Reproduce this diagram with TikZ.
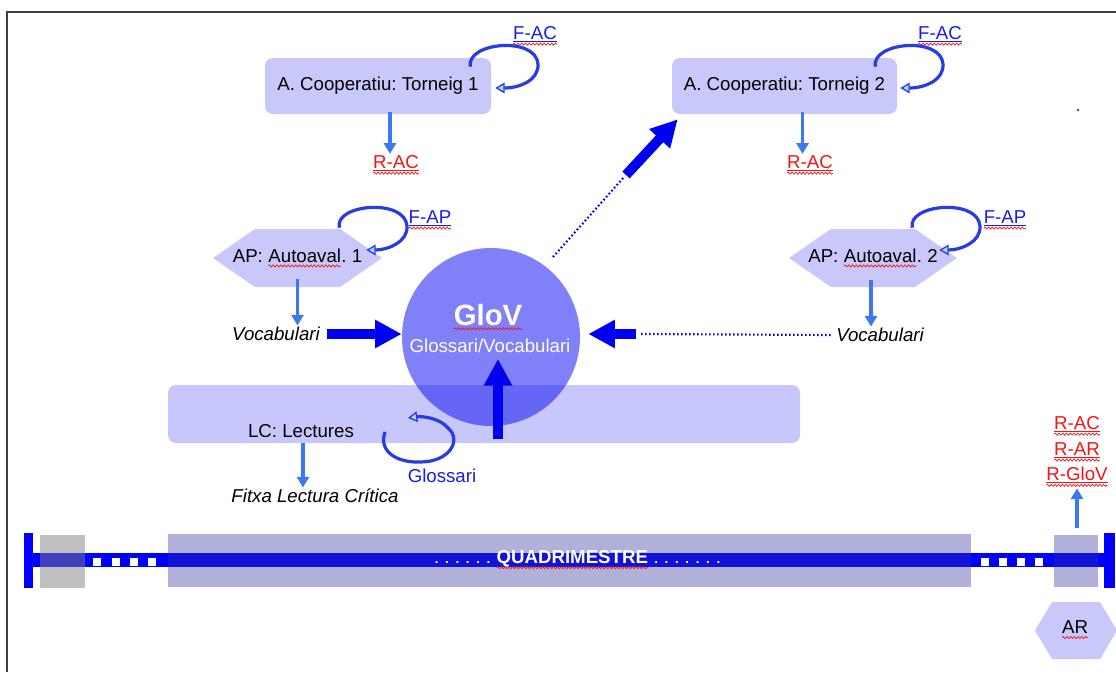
\documentclass[tikz,border=0pt]{standalone}
\usepackage{fontspec}
\setmainfont{Liberation Sans}
\usetikzlibrary{arrows.meta,decorations.pathmorphing,calc}
\definecolor{boxfill}{RGB}{200,200,250}
\definecolor{circfill}{RGB}{128,128,248}
\definecolor{thinblue}{RGB}{60,120,240}
\definecolor{loopblue}{RGB}{40,60,230}
\definecolor{loopfill}{RGB}{170,220,250}
\definecolor{linkblue}{RGB}{20,30,230}
\definecolor{wavered}{RGB}{235,30,30}
\definecolor{txtred}{RGB}{245,20,20}
\definecolor{barblue}{RGB}{0,0,255}
\definecolor{bigblue}{RGB}{0,0,240}
\definecolor{bigbox}{RGB}{51,51,155}
\definecolor{lcover}{RGB}{15,15,240}
\newcommand\wavyu[1]{\tikz[baseline=(w.base)]{\node[inner sep=0pt,outer sep=0pt,minimum width=0pt,minimum height=0pt](w){#1};\draw[wavered,line width=0.55pt,decorate,decoration={snake,amplitude=0.8pt,segment length=2.8pt}]([yshift=-2.8pt]w.base west)--([yshift=-2.8pt]w.base east);}}
\newcommand\linku[2]{\tikz[baseline=(w.base)]{\node[inner sep=0pt,outer sep=0pt,minimum width=0pt,minimum height=0pt,text=#1](w){#2};\draw[#1,line width=0.6pt]([yshift=-1.3pt]w.base west)--([yshift=-1.3pt]w.base east);\draw[wavered,line width=0.55pt,decorate,decoration={snake,amplitude=0.8pt,segment length=2.8pt}]([yshift=-3.5pt]w.base west)--([yshift=-3.5pt]w.base east);}}
\begin{document}
\frenchspacing
\begin{tikzpicture}[x=0.75pt,y=-0.75pt,
 lbl/.style={font=\fontsize{14}{16}\selectfont,inner sep=1pt},
 rbox/.style={lbl,fill=boxfill,rounded corners=6pt,minimum height=42pt,inner sep=0pt},
 hexa/.style={inner sep=0pt,minimum height=43.5pt,path picture={\fill[boxfill] (path picture bounding box.west) -- ([xshift=#1]path picture bounding box.north west) -- ([xshift=-#1]path picture bounding box.north east) -- (path picture bounding box.east) -- ([xshift=-#1]path picture bounding box.south east) -- ([xshift=#1]path picture bounding box.south west) -- cycle;}},
 thinarr/.style={draw=thinblue,line width=2.6pt,-{Triangle[length=8pt,width=9pt]}},
 looparr/.style={draw=loopblue,line width=2.4pt,-{Triangle[length=7pt,width=8pt,fill=loopfill,line width=1pt]}},
 bigarr/.style={draw=bigblue,line width=7.5pt,-{Triangle[length=20pt,width=20pt]}},
 dotline/.style={draw=bigblue,line width=1.6pt,dash pattern=on 1.2pt off 1.8pt},
 itl/.style={lbl,font=\fontsize{14}{16}\selectfont\itshape},
]
\useasboundingbox (0,0) rectangle (1116,672);
% frame
\draw[line width=1.5pt,black!75] (7,672) -- (7,12) -- (1116,12);
\fill[black!70] (1078,110) circle (1pt);

% GloV circle and LC box
\node[circle,fill=circfill,minimum size=133.5pt,inner sep=0pt] (glov) at (491,337) {};
\node[fill=lcover,fill opacity=0.23,rounded corners=6pt,minimum width=474pt,minimum height=43.5pt,inner sep=0pt] (lc) at (484,414) {};
\node[text=white,font=\fontsize{22}{24}\selectfont\bfseries,inner sep=1pt] (glovt) at (488,317) {\wavyu{GloV}};
\node[lbl,text=white] (glovs) at (490,346) {Glossari/Vocabulari};
\node[lbl] (lct) at (301,431) {LC: Lectures};

% top boxes
\node[rbox,minimum width=169.5pt] (b1) at (378,86) {A. Cooperatiu: Torneig 1};
\node[rbox,minimum width=168.75pt] (b2) at (784.5,86) {A. Cooperatiu: Torneig 2};
\node[lbl] (fac1) at (535,36) {\linku{linkblue}{F-AC}};
\node[lbl] (fac2) at (940,36) {\linku{linkblue}{F-AC}};
\node[lbl] (rac1) at (396,165) {\linku{txtred}{R-AC}};
\node[lbl] (rac2) at (810,165) {\linku{txtred}{R-AC}};

% hexagons
\node[hexa=31.5pt,minimum width=126.75pt] (ap1) at (297.5,258) {};
\node[lbl] (ap1t) at (ap1.center) {AP: \wavyu{Autoaval}. 1};
\node[hexa=31.5pt,minimum width=126pt] (ap2) at (873,258) {};
\node[lbl] (ap2t) at (ap2.center) {AP: \wavyu{Autoaval}. 2};
\node[lbl] (fap1) at (430,220) {\linku{linkblue}{F-AP}};
\node[lbl] (fap2) at (1005,220) {\linku{linkblue}{F-AP}};
\node[itl] (voc1) at (276,334) {Vocabulari};
\node[itl] (voc2) at (880,335) {Vocabulari};
\node[itl] (fitxa) at (315,496) {Fitxa Lectura Crítica};
\node[lbl,text=linkblue] (gloss) at (442,476) {Glossari};

% self loops
\draw[looparr] ($(b1.north east)+(-21,9)$) .. controls (466,42) and (536,36) .. (538,64) .. controls (539,80) and (520,88) .. ($(b1.east)+(4,2)$);
\draw[looparr] ($(b2.north east)+(-22,9)$) .. controls (871,42) and (941,36) .. (943,64) .. controls (944,80) and (925,88) .. ($(b2.east)+(3,2)$);
\draw[looparr] ($(ap1.north east)+(-43,-1)$) .. controls (334,204) and (405,198) .. (407,226) .. controls (408,242) and (388,250) .. ($(ap1.east)+(-16,-8)$);
\draw[looparr] ($(ap2.north east)+(-45,-1)$) .. controls (907,204) and (978,198) .. (980,226) .. controls (981,242) and (961,250) .. ($(ap2.east)+(-18,-8)$);
\draw[looparr] ($(lc.center)+(-99,18)$) .. controls (378,452) and (398,463) .. (420,462) .. controls (450,462) and (462,440) .. (448,428) .. controls (440,418) and (422,416) .. ($(lc.center)+(-76,4)$);

% thin arrows
\coordinate (a1) at ($(b1.south)+(12,-2)$);
\draw[thinarr] (a1) -- (a1 |- rac1.north);
\coordinate (a2) at ($(b2.south)+(18,-2)$);
\draw[thinarr] (a2) -- (a2 |- rac2.north);
\coordinate (a3) at ($(ap1.south)+(0,-8)$);
\draw[thinarr] (a3) -- (a3 |- voc1.north);
\coordinate (a4) at ($(ap2.south)+(-2,-7)$);
\draw[thinarr] (a4) -- (a4 |- voc2.north);
\coordinate (a5) at ($(lc.south)+(-181,0)$);
\draw[thinarr] (a5) -- (a5 |- fitxa.north);

% thick arrows
\draw[bigarr] ([xshift=4pt]voc1.east) -- (voc1.east -| glov.west);
\coordinate (m2) at ($(glov.east)+(60,-3)$);
\draw[dotline] ([xshift=-3pt]voc2.west) -- (m2);
\draw[bigarr] ([xshift=-3pt]m2) -- ($(glov.east)+(8,-3)$);
\coordinate (up0) at ($(lc.south)+(14,-4)$);
\draw[bigarr] (up0) -- ($(glov.center)+(7,22)$);
\coordinate (d0) at ($(glov.center)+(62,-80)$);
\coordinate (d1) at ($(glov.center)+(133,-160)$);
\draw[dotline] (d0) -- (d1);
\draw[bigarr] ($(d1)+(2,-2)$) -- ($(b2.south west)+(6,5)$);

% timeline
\fill[barblue] (28,553) rectangle (1106,567);
\fill[barblue] (24,533) rectangle (33,588);
\fill[barblue] (1104,533) rectangle (1115,588);
\foreach \sx in {97,115.5,134,152,985,1003,1021,1039}
  \fill[white] (\sx-4,558) rectangle (\sx+4,566);
\fill[gray,fill opacity=0.5] (40,535) rectangle (85,588);
\fill[bigbox,fill opacity=0.39] (168,534) rectangle (971,587);
\fill[bigbox,fill opacity=0.39] (1054,535) rectangle (1098,587);
\node[lbl,text=white,inner sep=0pt] (q) at (577.5,560) {.\ .\ .\ .\ .\ .\ \wavyu{\textbf{QUADRIMESTRE}}\ .\ .\ .\ .\ .\ .\ .};

% right column
\node[lbl] (rac3) at (1077,426) {\linku{txtred}{R-AC}};
\node[lbl] (rar) at (1077,452) {\linku{txtred}{R-AR}};
\node[lbl] (rglov) at (1077,477) {\linku{txtred}{R-GloV}};
\coordinate (ra) at (1077,528);
\draw[thinarr] (ra) -- (ra |- rglov.south);
\node[hexa=12.75pt,minimum width=61.5pt,minimum height=42.75pt] (ar) at (1076,630.5) {};
\node[lbl] (art) at (1075,630) {\wavyu{AR}};
\end{tikzpicture}
\end{document}
